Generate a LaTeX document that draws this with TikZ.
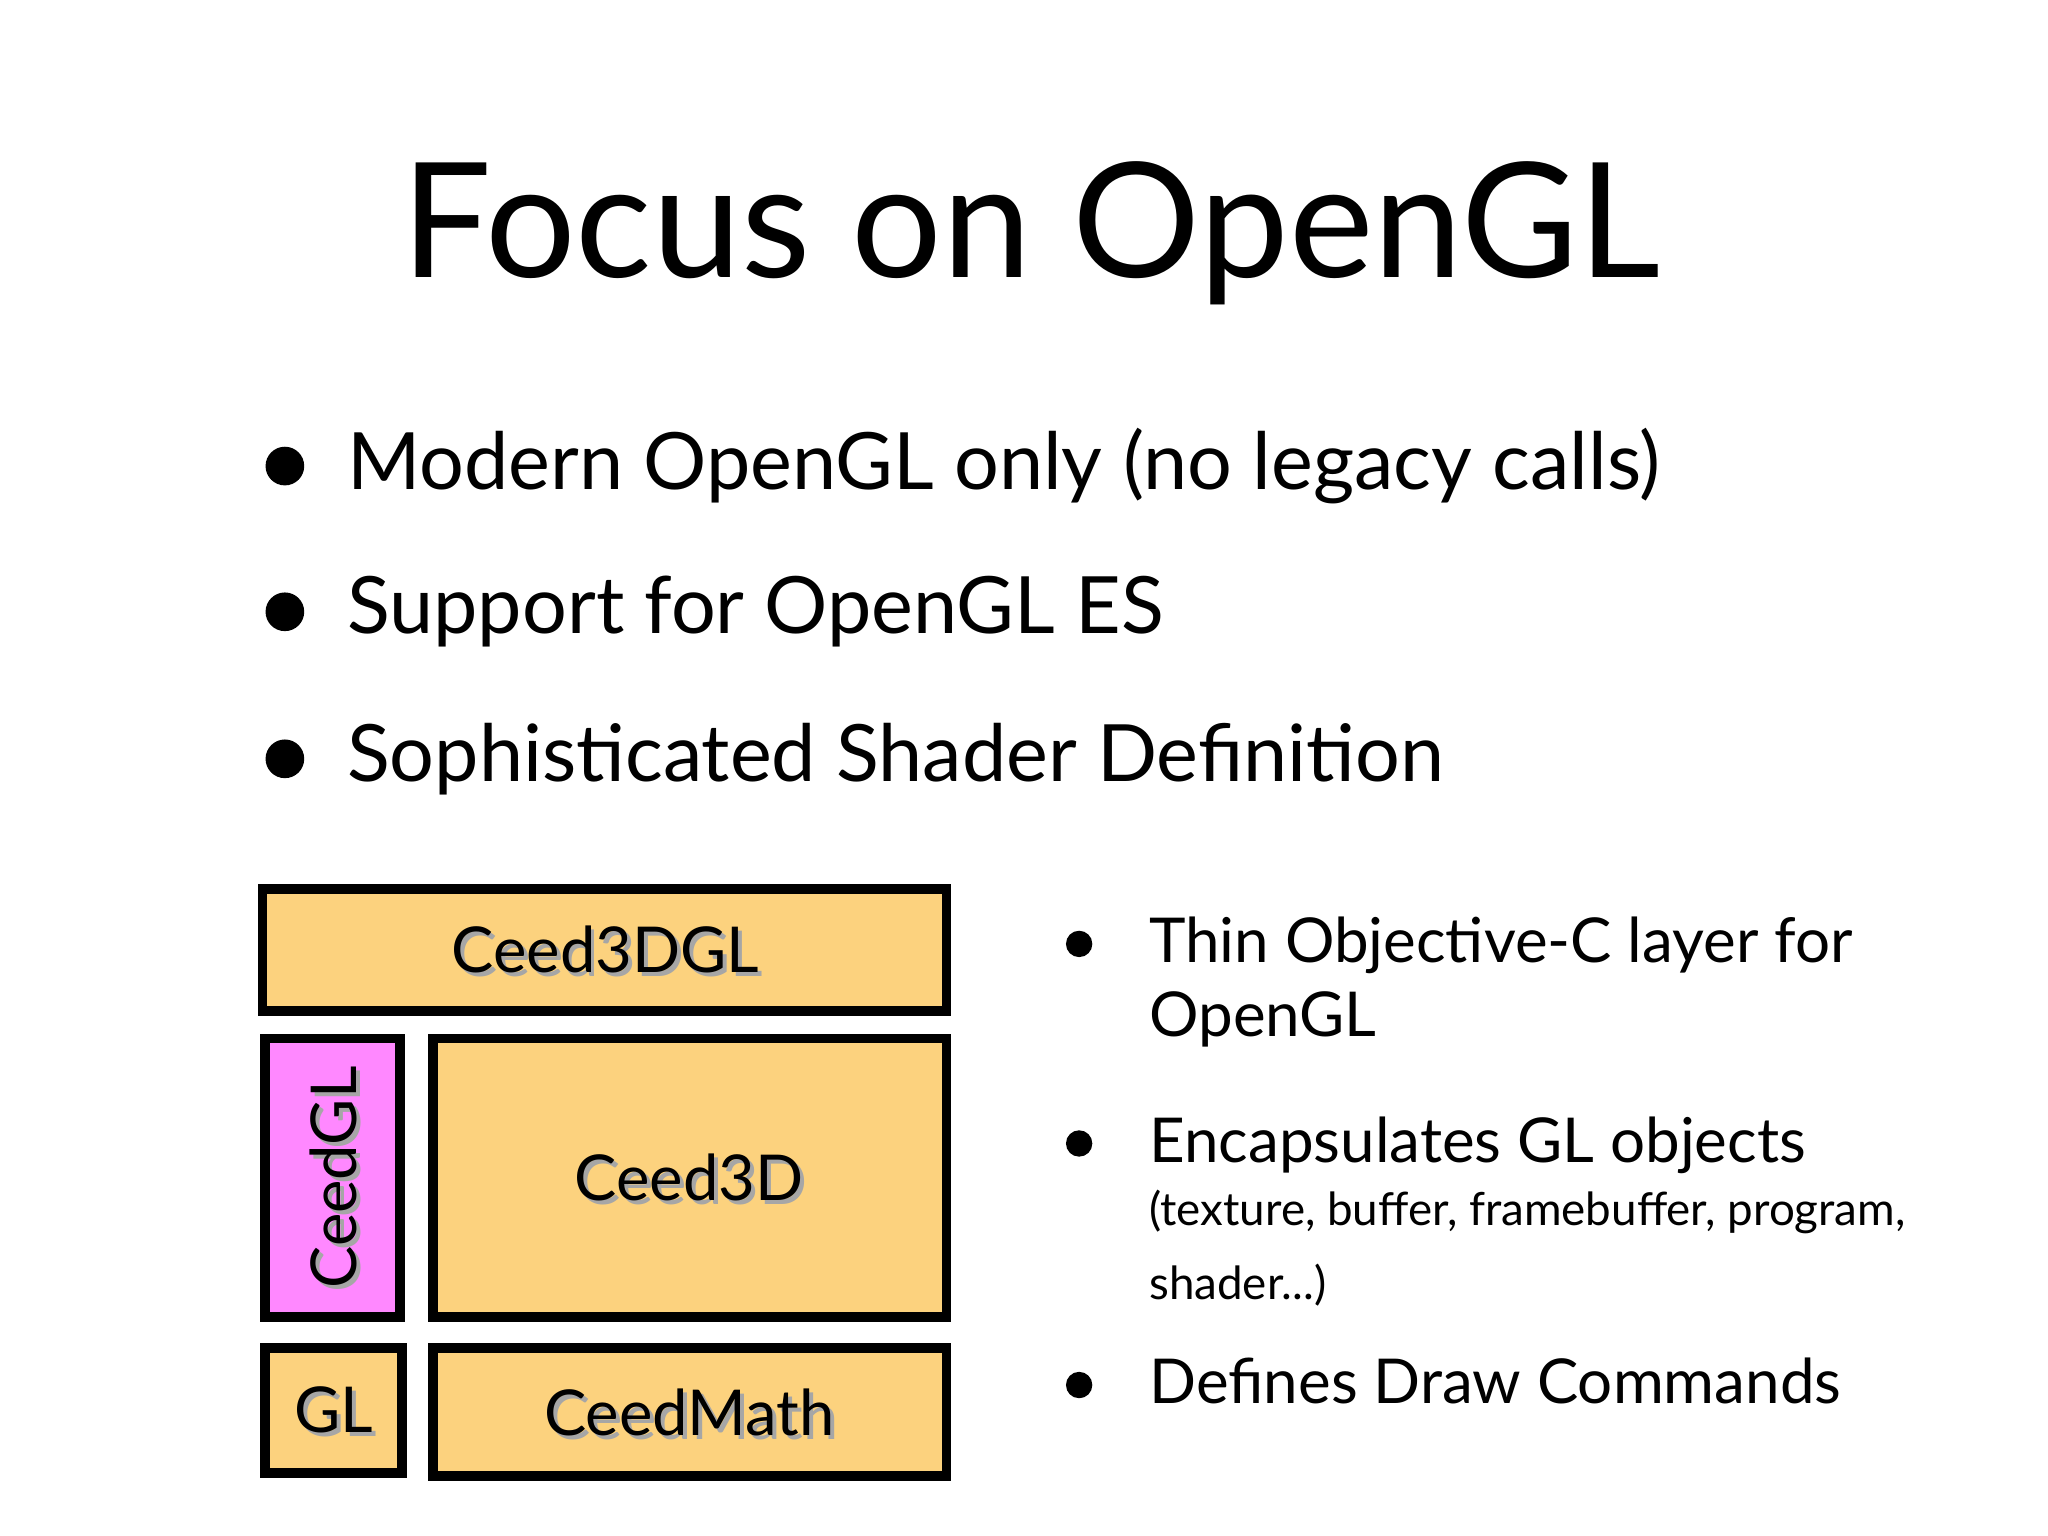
\documentclass[tikz,border=0pt]{standalone}
\usepackage{fontspec}
\setmainfont{Lato}
\definecolor{boxy}{HTML}{FCD27E}
\definecolor{boxp}{HTML}{FF88FF}
\begin{document}
\begin{tikzpicture}[x=0.013128cm,y=-0.013128cm,
  blk/.style={draw=black,line width=2.8pt,fill=boxy},
  lbl/.style={font=\fontsize{18}{22}\selectfont},
  shd/.style={lbl,text=black!35},
  bul/.style={anchor=west,font=\fontsize{22.5}{27}\selectfont},
  rb/.style={anchor=north west,align=left,font=\fontsize{17.6}{21}\selectfont},
  dot/.style={circle,fill=black,inner sep=0pt,minimum size=#1}]
\useasboundingbox (0,0) rectangle (1560,1170);
\node[font=\fontsize{45.5}{55}\selectfont] (title) at (785,178) {Focus on OpenGL};
\node[dot=11pt] (d1) at (217,355) {};
\node[bul] (b1) at (255,355) {Modern OpenGL only (no legacy calls)};
\node[dot=11pt] (d2) at (217,466) {};
\node[bul] (b2) at (255,466) {Support for OpenGL ES};
\node[dot=11pt] (d3) at (217,578) {};
\node[bul] (b3) at (255,578) {Sophisticated Shader Definition};
\draw[blk] (200,677) rectangle (721,770);
\node[shd] at (464,726) {Ceed3DGL};
\node[lbl] (c3dgl) at (461,723) {Ceed3DGL};
\draw[blk,fill=boxp] (202,791) rectangle (305,1003);
\node[shd,rotate=90] at (257,900) {CeedGL};
\node[lbl,rotate=90] (cgl) at (254,897) {CeedGL};
\draw[blk] (330,791) rectangle (721,1003);
\node[shd] at (528,900) {Ceed3D};
\node[lbl] (c3d) at (525,897) {Ceed3D};
\draw[blk] (202,1027) rectangle (306,1122);
\node[shd] at (257,1077) {GL};
\node[lbl] (gl) at (254,1074) {GL};
\draw[blk] (330,1027) rectangle (721,1124);
\node[shd] at (528,1079) {CeedMath};
\node[lbl] (cm) at (525,1076) {CeedMath};
\node[dot=7.5pt] (e1) at (822,719) {};
\node[rb] (r1) at (866,689) {Thin Objective-C layer for\\OpenGL};
\node[dot=7.5pt] (e2) at (822,871) {};
\node[rb] (r2) at (866,841) {Encapsulates GL objects\\[-3pt]{\fontsize{13}{17}\selectfont (texture, buffer, framebuffer, program,}\\{\fontsize{13}{17}\selectfont shader...)}};
\node[dot=7.5pt] (e3) at (822,1055) {};
\node[rb] (r3) at (866,1025) {Defines Draw Commands};
\end{tikzpicture}
\end{document}
